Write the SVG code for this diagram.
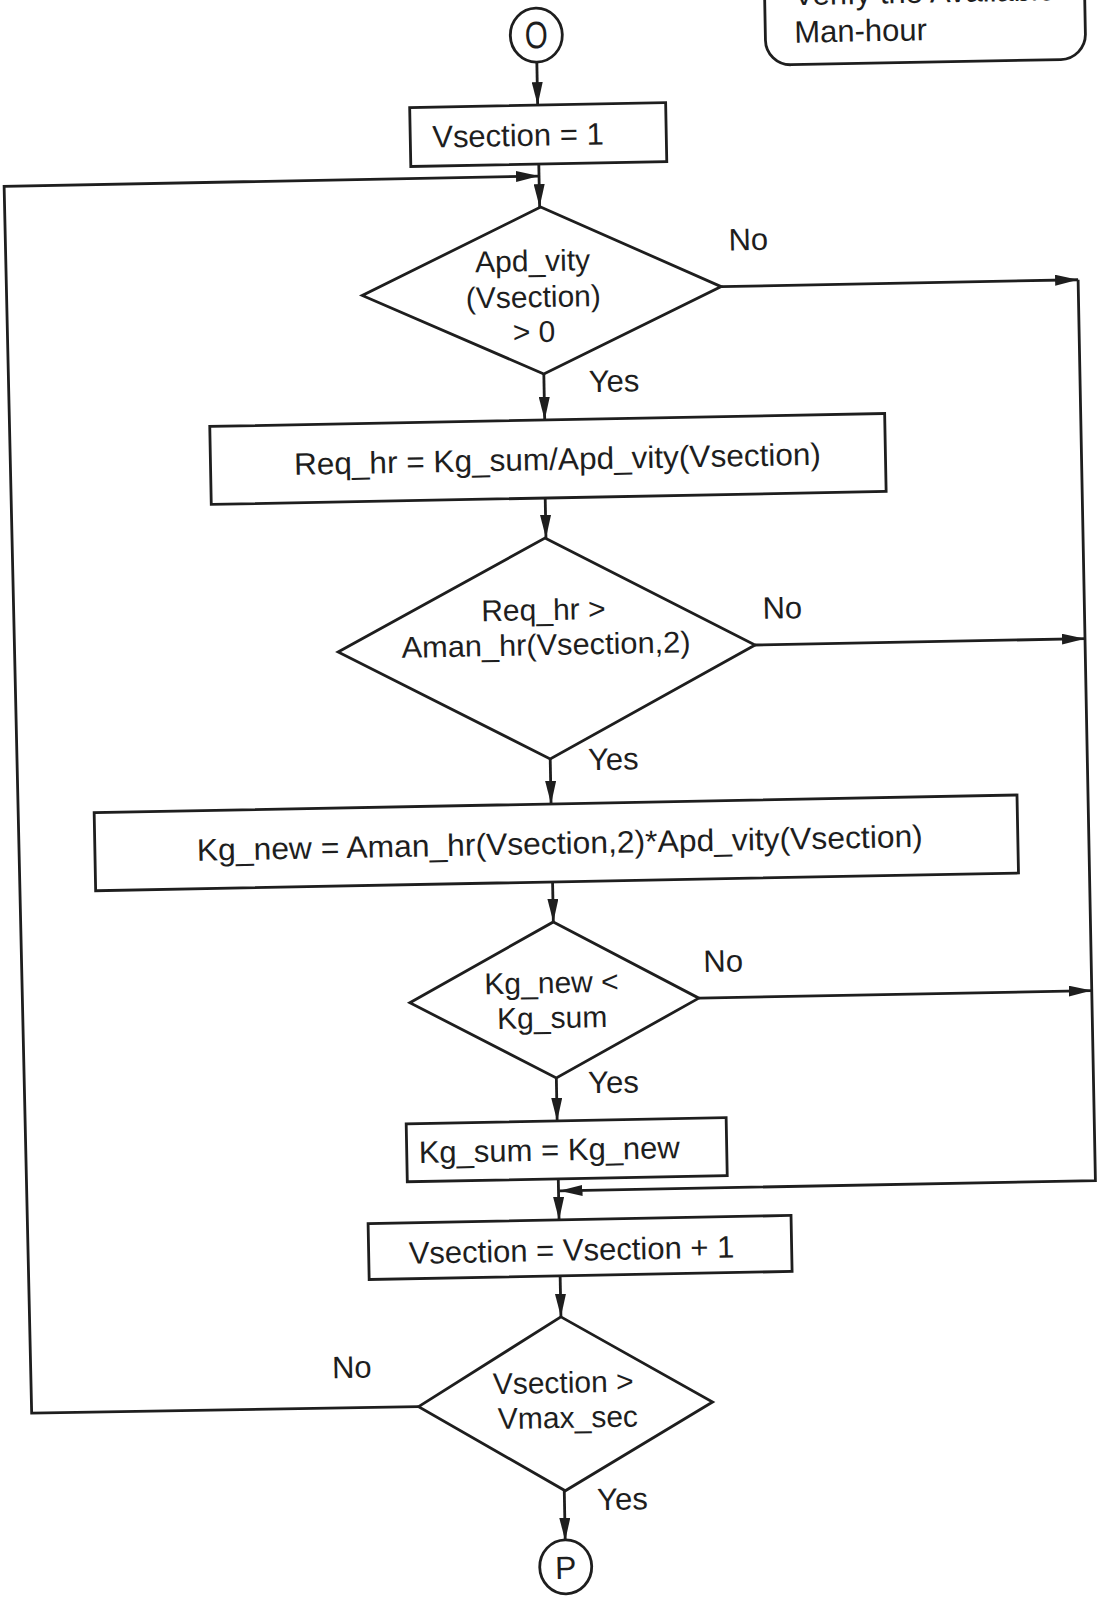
<svg xmlns="http://www.w3.org/2000/svg" width="1098" height="1598" viewBox="0 0 1098 1598">
<style>
  .shape { fill: none; stroke: #1e1e1e; stroke-width: 2.8; }
  .line { fill: none; stroke: #1e1e1e; stroke-width: 2.8; }
  .t { font-family: "Liberation Sans", Arial, sans-serif; font-size: 31px; fill: #1e1e1e; }
  .d { font-size: 30px; }
  .m { text-anchor: middle; }
</style>
<defs>
  <marker id="ah" markerUnits="userSpaceOnUse" markerWidth="23" markerHeight="11" refX="23" refY="5.5" orient="auto">
    <path d="M0,0 L23,5.5 L0,11 z" fill="#1e1e1e"/>
  </marker>
</defs>
<rect x="0" y="0" width="1098" height="1598" fill="#ffffff"/>
<g transform="rotate(-1.1 549 800)">
  <g id="connectors">
    <path class="line" d="M551,62 V105" marker-end="url(#ah)"/>
    <path class="line" d="M551,164 V207" marker-end="url(#ah)"/>
    <path class="line" d="M552,374 V420" marker-end="url(#ah)"/>
    <path class="line" d="M551,498 V538" marker-end="url(#ah)"/>
    <path class="line" d="M551,759 V804" marker-end="url(#ah)"/>
    <path class="line" d="M551,882 V922" marker-end="url(#ah)"/>
    <path class="line" d="M551,1078 V1121" marker-end="url(#ah)"/>
    <path class="line" d="M551,1179 V1220" marker-end="url(#ah)"/>
    <path class="line" d="M551,1276 V1317" marker-end="url(#ah)"/>
    <path class="line" d="M551,1491 V1541" marker-end="url(#ah)"/>
    <path class="line" d="M731,290 H1088" marker-end="url(#ah)"/>
    <path class="line" d="M758,649 H1088" marker-end="url(#ah)"/>
    <path class="line" d="M695,1001 H1088" marker-end="url(#ah)"/>
    <path class="line" d="M1088,290 V1191 H552" marker-end="url(#ah)"/>
    <path class="line" d="M407,1404 L20,1403 L16,176 H551" marker-end="url(#ah)"/>
    <text class="t m" x="759" y="254">No</text>
    <text class="t m" x="622" y="393">Yes</text>
    <text class="t m" x="786" y="623">No</text>
    <text class="t m" x="614" y="771">Yes</text>
    <text class="t m" x="720" y="975">No</text>
    <text class="t m" x="608" y="1094">Yes</text>
    <text class="t m" x="341" y="1374">No</text>
    <text class="t m" x="609" y="1511">Yes</text>
  </g>
  <g id="note">
    <path class="shape" d="M780,-40 V44.5 A25,25 0 0 0 805,69.5 H1075 A25,25 0 0 0 1100,44.5 V-40"/>
    <text class="t" x="809" y="10">Verify the Available</text>
    <text class="t" x="809" y="47.5">Man-hour</text>
  </g>
  <g id="start">
    <ellipse class="shape" cx="551" cy="35" rx="26" ry="27"/>
    <text class="t m" x="551" y="48" style="font-size:38px" textLength="23" lengthAdjust="spacingAndGlyphs">O</text>
  </g>
  <g id="init">
    <rect class="shape" x="423" y="105" width="256" height="59"/>
    <text class="t" x="445" y="145.5">Vsection = 1</text>
  </g>
  <g id="check-apd">
    <polygon class="shape" points="552,207 731,290 552,374 372,292"/>
    <text class="t d m" x="543" y="271">Apd_vity</text>
    <text class="t d m" x="543" y="307">(Vsection)</text>
    <text class="t d m" x="543" y="342">&gt; 0</text>
  </g>
  <g id="req-hr">
    <rect class="shape" x="217" y="420" width="675" height="78"/>
    <text class="t m" x="564" y="470" textLength="527" lengthAdjust="spacingAndGlyphs">Req_hr = Kg_sum/Apd_vity(Vsection)</text>
  </g>
  <g id="check-req">
    <polygon class="shape" points="550,538 758,649 551,759 341,648"/>
    <text class="t d m" x="547" y="620">Req_hr &gt;</text>
    <text class="t d m" x="549" y="655" textLength="289" lengthAdjust="spacingAndGlyphs">Aman_hr(Vsection,2)</text>
  </g>
  <g id="kg-new">
    <rect class="shape" x="94" y="804" width="923" height="78"/>
    <text class="t m" x="559" y="854" textLength="726" lengthAdjust="spacingAndGlyphs">Kg_new = Aman_hr(Vsection,2)*Apd_vity(Vsection)</text>
  </g>
  <g id="check-kg">
    <polygon class="shape" points="551,922 695,1001 551,1078 406,1000"/>
    <text class="t d m" x="548" y="993">Kg_new &lt;</text>
    <text class="t d m" x="548" y="1028">Kg_sum</text>
  </g>
  <g id="kg-sum">
    <rect class="shape" x="400" y="1121" width="320" height="58"/>
    <text class="t" x="412" y="1160.5">Kg_sum = Kg_new</text>
  </g>
  <g id="increment">
    <rect class="shape" x="360" y="1220" width="423" height="56"/>
    <text class="t" x="400" y="1261">Vsection = Vsection + 1</text>
  </g>
  <g id="check-max">
    <polygon class="shape" points="551,1317 701,1405 552,1491 407,1404"/>
    <text class="t d m" x="552" y="1393">Vsection &gt;</text>
    <text class="t d m" x="556" y="1428">Vmax_sec</text>
  </g>
  <g id="end">
    <ellipse class="shape" cx="551" cy="1567" rx="26" ry="27"/>
    <text class="t m" x="551" y="1579" style="font-size:32px">P</text>
  </g>
</g>
</svg>
